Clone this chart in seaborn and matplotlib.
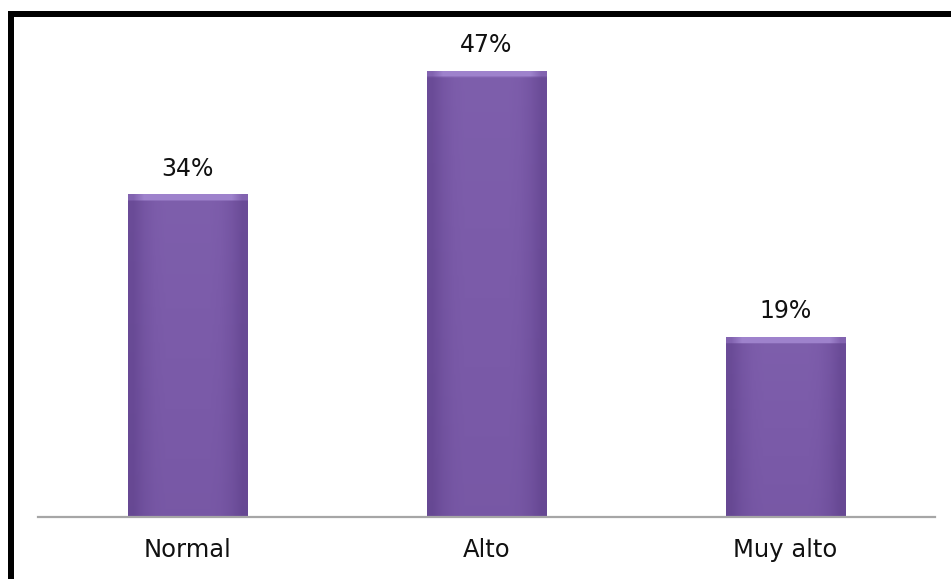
import numpy as np
import pandas as pd
import matplotlib
matplotlib.use("Agg")
import matplotlib.pyplot as plt
import seaborn as sns
from matplotlib.patches import Rectangle
from matplotlib.colors import LinearSegmentedColormap

categories = ["Normal", "Alto", "Muy alto"]
values = [34, 47, 19]
value_labels = ["34%", "47%", "19%"]

sns.set_theme(style="white")
plt.rcParams['font.family'] = ['DejaVu Sans']

df = pd.DataFrame({"cat": categories, "val": values})

fig = plt.figure(figsize=(9.51, 5.79), dpi=100)
fig.patch.set_facecolor("white")
ax = fig.add_axes([38/951, (579-517)/579, (935-38)/951, (517-42)/579])

sns.barplot(data=df, x="cat", y="val", color="#7656A3", width=0.4,
            saturation=1, ax=ax, edgecolor="none")

ax.set_xlim(-0.5, 2.5)
ax.set_ylim(0, 50)

# bevel-like gradient on each bar
hgrad = np.array([0.55, 0.8, 0.95, 1.0, 1.0, 1.0, 1.0, 1.0, 0.95, 0.8, 0.55])
cmap = LinearSegmentedColormap.from_list("p", ["#4E3179", "#7A5AA8", "#A287D0"])
for p in ax.patches:
    x0, y0 = p.get_x(), p.get_y()
    w, h = p.get_width(), p.get_height()
    ny = 200
    vg = np.linspace(0.85, 1.0, ny)[:, None]
    img = np.outer(vg[:, 0], hgrad) * 0.5 + 0.05
    top_px = 8 / (475 / 50)
    frac = top_px / h
    ntop = max(1, int(ny * frac))
    img[-ntop:, :] = 0.95
    img[-ntop:, 0] = 0.6
    img[-ntop:, -1] = 0.6
    im = ax.imshow(img, cmap=cmap, vmin=0, vmax=1, origin="lower",
                   extent=[x0, x0 + w, y0, y0 + h], aspect="auto",
                   interpolation="bilinear", zorder=p.get_zorder() + 0.1)
    im.set_clip_path(p)

ax.set_aspect("auto")
ax.set_xlim(-0.5, 2.5)
ax.set_ylim(0, 50)

for i, (v, lab) in enumerate(zip(values, value_labels)):
    ax.annotate(lab, xy=(i, v), xytext=(0, 9.5), textcoords="offset points",
                ha="center", va="bottom", fontsize=17, color="#111111")

ax.set_xlabel("")
ax.set_ylabel("")
ax.set_yticks([])
ax.tick_params(axis="x", length=0, pad=15, labelsize=17.5, labelcolor="#111111")
for s in ["top", "left", "right"]:
    ax.spines[s].set_visible(False)
ax.spines["bottom"].set_color("#A6A6A6")
ax.spines["bottom"].set_linewidth(1.6)
ax.set_facecolor("white")

border = Rectangle((11/951, -0.2), 1.5, (579-14)/579 + 0.2,
                   transform=fig.transFigure, fill=False, edgecolor="black",
                   linewidth=6 * 72 / 100, clip_on=False)
fig.add_artist(border)

fig.savefig("out.png", dpi=100, facecolor="white")
